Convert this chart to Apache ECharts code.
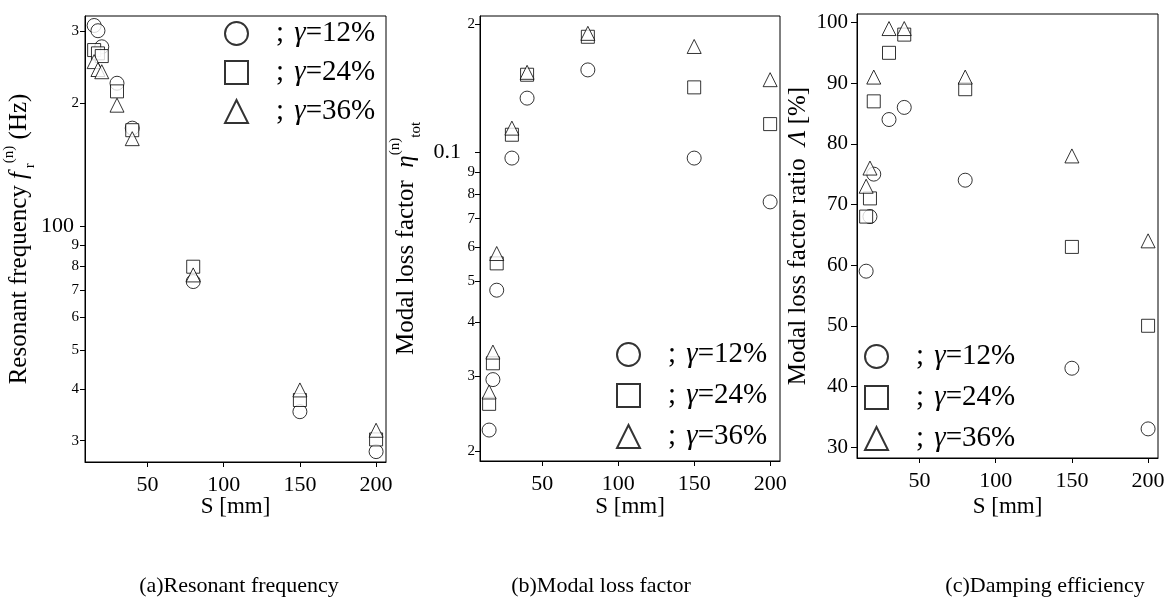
<!DOCTYPE html>
<html>
<head>
<meta charset="utf-8">
<script src="https://cdn.jsdelivr.net/npm/echarts@6/dist/echarts.min.js"></script>
<style>
  html, body { margin: 0; padding: 0; background: #fff; }
  #main { width: 1172px; height: 599px; }
</style>
</head>
<body>
<div id="main"></div>
<script>
// S [mm]
var spacing = [15, 17.5, 20, 30, 40, 80, 150, 200];

// (a) resonant frequency, Hz
var freq12 = [310, 301, 275, 224, 174, 73.4, 35.3, 28.2];
var freq24 = [270, 265, 261, 214, 172, 79.8, 37.7, 30.2];
var freq36 = [253, 242, 239, 198, 164, 76.2, 39.9, 31.8];

// (b) modal loss factor
var loss12 = [0.0224, 0.0294, 0.0476, 0.097, 0.134, 0.156, 0.097, 0.0766];
var loss24 = [0.0258, 0.0321, 0.055, 0.110, 0.152, 0.1865, 0.142, 0.1165];
var loss36 = [0.0275, 0.0341, 0.058, 0.114, 0.154, 0.190, 0.177, 0.148];

// (c) modal loss factor ratio, %
var ratio12 = [59, 68, 75, 84, 86, 74, 43, 33];
var ratio24 = [68, 71, 87, 95, 98, 89, 63, 50];
var ratio36 = [73, 76, 91, 99, 99, 91, 78, 64];

var xTicks = [50, 100, 150, 200];
var freqTicks = [30, 40, 50, 60, 70, 80, 90, 100, 200, 300];
var lossTicks = [0.02, 0.03, 0.04, 0.05, 0.06, 0.07, 0.08, 0.09, 0.1, 0.2];
var ratioTicks = [30, 40, 50, 60, 70, 80, 90, 100];

var gammaNames = ['γ=12%', 'γ=24%', 'γ=36%'];
var captions = ['(a)Resonant frequency', '(b)Modal loss factor', '(c)Damping efficiency'];

var serif = '"Liberation Serif", "Times New Roman", serif';

function leadDigit(v) {
    var p = Math.pow(10, Math.floor(Math.log10(v) + 1e-9));
    return String(Math.round(v / p));
}

function logFormatter(big, bigText) {
    return function (v) {
        if (Math.abs(v - big) < big * 1e-6) return '{b|' + bigText + '}';
        return '{s|' + leadDigit(v) + '}';
    };
}

var tickRich = function (padRight) {
    return {
        b: { fontFamily: serif, fontSize: 22, color: '#000', padding: [0, padRight, 0, 0] },
        s: { fontFamily: serif, fontSize: 15, color: '#000' }
    };
};

var nameRich = {
    t: { fontFamily: serif, fontSize: 25, color: '#000', lineHeight: 36 },
    i: { fontFamily: serif, fontSize: 25, fontStyle: 'italic', color: '#000', lineHeight: 36 },
    sup: { fontFamily: serif, fontSize: 15, color: '#000', verticalAlign: 'top', lineHeight: 36 },
    sub: { fontFamily: serif, fontSize: 15, color: '#000', verticalAlign: 'bottom', lineHeight: 36 }
};

function xAxis(idx, gap) {
    return {
        type: 'value', gridIndex: idx, min: 9, max: 206.5,
        name: 'S [mm]', nameLocation: 'middle', nameGap: gap, nameMoveOverlap: false,
        nameTextStyle: { fontFamily: serif, fontSize: 23, color: '#000' },
        axisLine: { show: true, lineStyle: { color: '#000', width: 1 } },
        axisTick: { show: true, inside: false, length: 5, customValues: xTicks, lineStyle: { color: '#000' } },
        axisLabel: { customValues: xTicks, margin: 12, fontFamily: serif, fontSize: 22, color: '#000' },
        splitLine: { show: false }
    };
}

function yAxisBase(idx, name, gap) {
    return {
        gridIndex: idx,
        name: name, nameLocation: 'middle', nameGap: gap,
        nameTextStyle: { fontFamily: serif, fontSize: 25, color: '#000', rich: nameRich },
        axisLine: { show: true, lineStyle: { color: '#000', width: 1 } },
        splitLine: { show: false }
    };
}

var yA = yAxisBase(0, '{t|Resonant frequency }{i|f}{sub| r}{sup|(n)}{t| (Hz)}', 43);
yA.type = 'log'; yA.logBase = 10; yA.min = 26.6; yA.max = 327;
yA.axisTick = { show: true, length: 5, customValues: freqTicks, lineStyle: { color: '#000' } };
yA.axisLabel = { customValues: freqTicks, margin: 6, formatter: logFormatter(100, '100'), rich: tickRich(5) };

var yB = yAxisBase(1, '{t|Modal loss factor  }{i|η}{sup|(n)}{sub|tot}', 56);
yB.type = 'log'; yB.logBase = 10; yB.min = 0.01896; yB.max = 0.2086;
yB.axisTick = { show: true, length: 5, customValues: lossTicks, lineStyle: { color: '#000' } };
yB.axisLabel = { customValues: lossTicks, margin: 5, formatter: logFormatter(0.1, '0.1'), rich: tickRich(14) };

var yC = yAxisBase(2, '{t|Modal loss factor ratio  }{i|Λ}{t| [%]}', 41);
yC.type = 'value'; yC.min = 28.2; yC.max = 101.4;
yC.axisTick = { show: true, length: 6, customValues: ratioTicks, lineStyle: { color: '#000' } };
yC.axisLabel = { customValues: ratioTicks, margin: 9, fontFamily: serif, fontSize: 21, color: '#000' };

var markStyle = { color: '#fff', borderColor: '#000', borderWidth: 1 };
var symbols = ['circle', 'rect', 'triangle'];
var sizes = [14, 13, 14];

var panels = [
    [freq12, freq24, freq36],
    [loss12, loss24, loss36],
    [ratio12, ratio24, ratio36]
];

var series = [];
panels.forEach(function (sets, p) {
    sets.forEach(function (vals, k) {
        series.push({
            type: 'scatter',
            name: gammaNames[k],
            xAxisIndex: p, yAxisIndex: p,
            symbol: symbols[k], symbolSize: sizes[k],
            itemStyle: markStyle,
            emphasis: { disabled: true },
            data: spacing.map(function (s, i) { return [s, vals[i]]; })
        });
    });
});

var legendRich = {
    p: { fontFamily: serif, fontSize: 29, color: '#000', lineHeight: 28, padding: [0, 0, 0, 23] },
    sp: { fontFamily: serif, fontSize: 29, color: '#000', lineHeight: 28, padding: [0, 3, 0, 0] },
    s: { fontFamily: serif, fontSize: 29, color: '#000', lineHeight: 28 },
    g: { fontFamily: serif, fontSize: 29, fontStyle: 'italic', color: '#000', lineHeight: 28 }
};

function legend(left, top, gap) {
    return {
        orient: 'vertical', left: left, top: top, itemGap: gap, padding: 0,
        itemWidth: 23, itemHeight: 23, selectedMode: false,
        data: gammaNames.map(function (n, k) { return { name: n, icon: symbols[k] }; }),
        formatter: function (n) { return '{p|;}{sp| }{g|γ}{s|' + n.slice(1) + '}'; },
        textStyle: { rich: legendRich }
    };
}

var option = {
    backgroundColor: '#fff',
    animation: false,
    title: [
        { text: captions[0], left: 239, top: 575, textAlign: 'center' },
        { text: captions[1], left: 601, top: 575, textAlign: 'center' },
        { text: captions[2], left: 1045, top: 575, textAlign: 'center' }
    ].map(function (t) {
        t.padding = 0;
        t.textStyle = { fontFamily: serif, fontSize: 22, fontWeight: 'normal', color: '#000' };
        return t;
    }),
    grid: [
        { left: 85, top: 16, width: 301, height: 446 },
        { left: 480, top: 16, width: 300, height: 445 },
        { left: 857, top: 14, width: 301, height: 444 }
    ].map(function (g) {
        g.show = true; g.borderColor = '#000'; g.borderWidth = 1;
        return g;
    }),
    legend: [legend(224, 19, 10), legend(616, 340, 12), legend(864, 342, 12)],
    xAxis: [xAxis(0, 33), xAxis(1, 34), xAxis(2, 37)],
    yAxis: [yA, yB, yC],
    series: series
};

var chart = echarts.init(document.getElementById('main'));
chart.setOption(option);
</script>
</body>
</html>
